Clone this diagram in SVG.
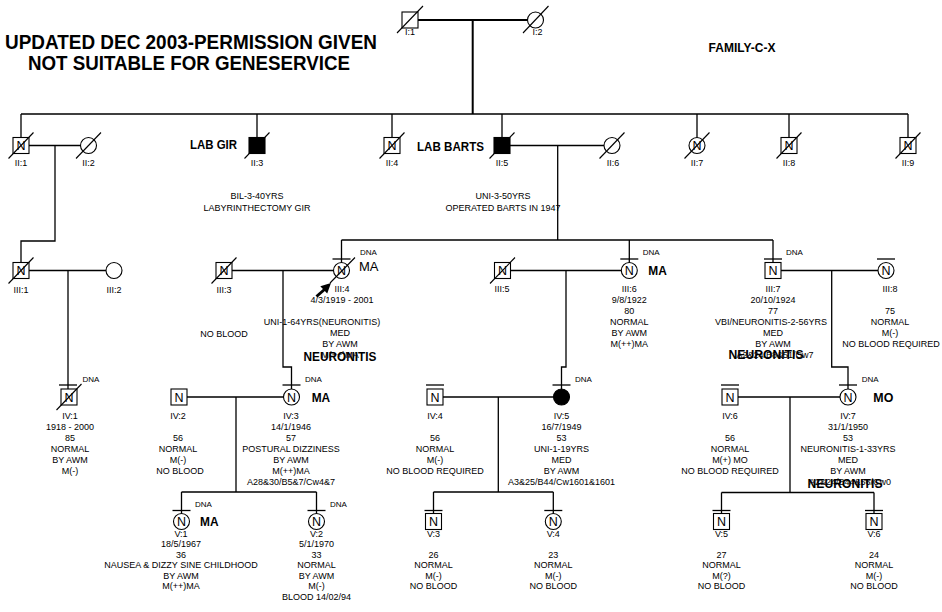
<svg xmlns="http://www.w3.org/2000/svg" width="942" height="612" viewBox="0 0 942 612">
<style>
text{font-family:"Liberation Sans",Arial,sans-serif;fill:#000}
.t{font-size:9px;text-anchor:middle}
.n{font-size:12.5px;text-anchor:middle}
.d{font-size:8px}
.b{font-weight:bold}
.ln{stroke:#000;stroke-width:1.3;fill:none}
.lt{stroke:#000;stroke-width:2;fill:none}
.s{fill:#fff;stroke:#000;stroke-width:1.1}
.f{fill:#000;stroke:#000;stroke-width:1.1}
.sl{stroke:#000;stroke-width:1.1}
.bar{stroke:#000;stroke-width:1.3}
</style>
<rect width="942" height="612" fill="#fff"/>

<g id="title">
<text class="b" x="191" y="49" font-size="21" text-anchor="middle" textLength="372" lengthAdjust="spacingAndGlyphs">UPDATED DEC 2003-PERMISSION GIVEN</text>
<text class="b" x="189" y="70" font-size="21" text-anchor="middle" textLength="322" lengthAdjust="spacingAndGlyphs">NOT SUITABLE FOR GENESERVICE</text>
<text class="b" x="742" y="52" font-size="12" text-anchor="middle">FAMILY-C-X</text>
</g>

<g id="connectors">
<path class="lt" d="M418,20 H527.5 M472.7,20 V114"/>
<path class="ln" d="M21,114 H908 M21,114 V137.5 M257,114 V137.5 M392,114 V137.5 M502,114 V137.5 M697,114 V137.5 M789,114 V137.5 M908,114 V137.5"/>
<path class="ln" d="M29,145.5 H80.5 M55,145.5 V241 H21 V262.5"/>
<path class="ln" d="M510,145.5 H604 M557.7,145.5 V240 M341.5,240 H773 M341.5,240 V262.5 M629.3,240 V262.5 M773,240 V262.5"/>
<path class="ln" d="M29,270.5 H106 M68,270.5 V389"/>
<path class="ln" d="M232,270.5 H333.5 M283,270.5 V367 H291.5 V389"/>
<path class="ln" d="M510.5,270.5 H621.3 M566,270.5 V367 H561.5 V389"/>
<path class="ln" d="M781,270.5 H878 M831.7,270.5 V367 H848 V389"/>
<path class="ln" d="M187,397 H283.5 M236,397 V492 M181.5,492 H316.5 M181.5,492 V513.5 M316.5,492 V513.5"/>
<path class="ln" d="M443,397 H553.5 M498.3,397 V492 M433.5,492 H553.3 M433.5,492 V513.5 M553.3,492 V513.5"/>
<path class="ln" d="M738,397 H840 M790,397 V492.5 M721.5,492.5 H874 M721.5,492.5 V513.5 M874,492.5 V513.5"/>
</g>

<g id="I1"><rect class="s" x="402" y="12" width="16" height="16"/><line class="sl" x1="397" y1="33" x2="423" y2="6"/><text class="t" x="410" y="35">I:1</text></g>
<g id="I2"><circle class="s" cx="535.5" cy="20" r="8"/><line class="sl" x1="523" y1="33" x2="548.5" y2="6"/><text class="t" x="537.5" y="35">I:2</text></g>

<g id="II1"><rect class="s" x="13" y="137.5" width="16" height="16"/><text class="n" x="21" y="150">N</text><line class="sl" x1="8.5" y1="158.5" x2="33.5" y2="132.5"/><text class="t" x="21" y="166">II:1</text></g>
<g id="II2"><circle class="s" cx="88.5" cy="145.5" r="8"/><line class="sl" x1="76" y1="158.5" x2="101" y2="132.5"/><text class="t" x="88.5" y="166">II:2</text></g>
<g id="II3"><text class="b" x="190" y="148.5" font-size="13.5" textLength="47" lengthAdjust="spacingAndGlyphs">LAB GIR</text><rect class="f" x="249" y="137.5" width="16" height="16"/><line class="sl" x1="244.5" y1="158.5" x2="269.5" y2="132.5"/><text class="t" x="257" y="166">II:3</text><text class="t" x="257" y="198.5">BIL-3-40YRS</text><text class="t" x="257" y="210.5">LABYRINTHECTOMY GIR</text></g>
<g id="II4"><rect class="s" x="384" y="137.5" width="16" height="16"/><text class="n" x="392" y="150">N</text><line class="sl" x1="379.5" y1="158.5" x2="404.5" y2="132.5"/><text class="t" x="392" y="166">II:4</text></g>
<g id="II5"><text class="b" x="417" y="150.5" font-size="13.5" textLength="67" lengthAdjust="spacingAndGlyphs">LAB BARTS</text><rect class="f" x="494" y="137.5" width="16" height="16"/><line class="sl" x1="489.5" y1="158.5" x2="514.5" y2="132.5"/><text class="t" x="502" y="166">II:5</text><text class="t" x="503" y="199">UNI-3-50YRS</text><text class="t" x="503" y="211">OPERATED BARTS IN 1947</text></g>
<g id="II6"><circle class="s" cx="612" cy="145.5" r="8"/><line class="sl" x1="599.5" y1="158.5" x2="624.5" y2="132.5"/><text class="t" x="613" y="166">II:6</text></g>
<g id="II7"><circle class="s" cx="697" cy="145.5" r="8"/><text class="n" x="697" y="150">N</text><line class="sl" x1="684.5" y1="158.5" x2="709.5" y2="132.5"/><text class="t" x="697" y="166">II:7</text></g>
<g id="II8"><rect class="s" x="781" y="137.5" width="16" height="16"/><text class="n" x="789" y="150">N</text><line class="sl" x1="776.5" y1="158.5" x2="801.5" y2="132.5"/><text class="t" x="789" y="166">II:8</text></g>
<g id="II9"><rect class="s" x="900" y="137.5" width="16" height="16"/><text class="n" x="908" y="150">N</text><line class="sl" x1="895.5" y1="158.5" x2="920.5" y2="132.5"/><text class="t" x="908" y="166">II:9</text></g>

<g id="III1"><rect class="s" x="13" y="262.5" width="16" height="16"/><text class="n" x="21" y="275">N</text><line class="sl" x1="8.5" y1="283.5" x2="33.5" y2="257.5"/><text class="t" x="21" y="292.5">III:1</text></g>
<g id="III2"><circle class="s" cx="114" cy="270.5" r="8"/><text class="t" x="114" y="292.5">III:2</text></g>
<g id="III3"><rect class="s" x="216" y="262.5" width="16" height="16"/><text class="n" x="224" y="275">N</text><line class="sl" x1="211.5" y1="283.5" x2="236.5" y2="257.5"/><text class="t" x="224" y="292.5">III:3</text><text class="t" x="224" y="336.5">NO BLOOD</text></g>
<g id="III4"><line class="bar" x1="332.5" y1="259" x2="350.5" y2="259"/><circle class="s" cx="341.5" cy="270.5" r="8"/><text class="n" x="341.5" y="275">N</text><line class="sl" x1="330" y1="283" x2="355" y2="257.5"/><text class="d" x="360" y="254.5">DNA</text><text x="359" y="271" font-size="13">MA</text>
<line stroke="#000" stroke-width="3" x1="316.5" y1="296.5" x2="325" y2="289"/><polygon points="331,283 327.2,293.5 320.3,286.2" fill="#000"/>
<text class="t" x="342" y="291.5">III:4</text><text class="t" x="342" y="303">4/3/1919 - 2001</text><text class="t" x="322" y="325">UNI-1-64YRS(NEURONITIS)</text><text class="t" x="340" y="336">MED</text><text class="t" x="340" y="347">BY AWM</text><text class="t" x="340" y="358">M(++)MA</text><text class="b" x="340" y="361" font-size="13.5" text-anchor="middle" textLength="73" lengthAdjust="spacingAndGlyphs">NEURONITIS</text></g>
<g id="III5"><rect class="s" x="494.5" y="262.5" width="16" height="16"/><text class="n" x="502.5" y="275">N</text><line class="sl" x1="490" y1="283.5" x2="515" y2="257.5"/><text class="t" x="502" y="291.5">III:5</text></g>
<g id="III6"><line class="bar" x1="620.3" y1="259" x2="638.3" y2="259"/><circle class="s" cx="629.3" cy="270.5" r="8"/><text class="n" x="629.3" y="275">N</text><text class="d" x="642.7" y="254.5">DNA</text><text class="b" x="648.3" y="275" font-size="13" textLength="18.5" lengthAdjust="spacingAndGlyphs">MA</text>
<text class="t" x="629.3" y="291.5">III:6</text><text class="t" x="629.3" y="303">9/8/1922</text><text class="t" x="629.3" y="314">80</text><text class="t" x="629.3" y="325">NORMAL</text><text class="t" x="629.3" y="336">BY AWM</text><text class="t" x="629.3" y="347">M(++)MA</text></g>
<g id="III7"><line class="bar" x1="764" y1="259" x2="782" y2="259"/><rect class="s" x="765" y="262.5" width="16" height="16"/><text class="n" x="773" y="275">N</text><text class="d" x="786" y="254.5">DNA</text>
<text class="t" x="773" y="291.5">III:7</text><text class="t" x="773" y="303">20/10/1924</text><text class="t" x="773" y="314">77</text><text class="t" x="771" y="325">VBI/NEURONITIS-2-56YRS</text><text class="t" x="773" y="336">MED</text><text class="t" x="773" y="347">BY AWM</text><text class="t" x="775" y="358">A2&amp;24/B8&amp;51/Cw7</text><text class="b" x="766" y="359" font-size="13.5" text-anchor="middle" textLength="75" lengthAdjust="spacingAndGlyphs">NEURONITIS</text></g>
<g id="III8"><line class="bar" x1="877" y1="259" x2="895" y2="259"/><circle class="s" cx="886" cy="270.5" r="8"/><text class="n" x="886" y="275">N</text>
<text class="t" x="890" y="291.5">III:8</text><text class="t" x="890" y="314">75</text><text class="t" x="890" y="325">NORMAL</text><text class="t" x="890" y="336">M(-)</text><text class="t" x="891" y="347">NO BLOOD REQUIRED</text></g>

<g id="IV1"><line class="bar" x1="59" y1="385" x2="77" y2="385"/><rect class="s" x="61" y="389" width="16" height="16"/><text class="n" x="69" y="401.5">N</text><line class="sl" x1="56.5" y1="410" x2="81.5" y2="384"/><text class="d" x="82.5" y="381.5">DNA</text>
<text class="t" x="70" y="419">IV:1</text><text class="t" x="70" y="430">1918 - 2000</text><text class="t" x="70" y="441">85</text><text class="t" x="70" y="452">NORMAL</text><text class="t" x="70" y="463">BY AWM</text><text class="t" x="70" y="474">M(-)</text></g>
<g id="IV2"><rect class="s" x="171" y="389" width="16" height="16"/><text class="n" x="179" y="401.5">N</text>
<text class="t" x="178" y="419">IV:2</text><text class="t" x="178" y="441">56</text><text class="t" x="178" y="452">NORMAL</text><text class="t" x="178" y="463">M(-)</text><text class="t" x="180" y="474">NO BLOOD</text></g>
<g id="IV3"><line class="bar" x1="282.5" y1="385" x2="300.5" y2="385"/><circle class="s" cx="291.5" cy="397" r="8"/><text class="n" x="291.5" y="401.5">N</text><text class="d" x="305" y="381.5">DNA</text><text class="b" x="311.7" y="401.5" font-size="13" textLength="18.5" lengthAdjust="spacingAndGlyphs">MA</text>
<text class="t" x="291" y="419">IV:3</text><text class="t" x="291" y="430">14/1/1946</text><text class="t" x="291" y="441">57</text><text class="t" x="291" y="452">POSTURAL DIZZINESS</text><text class="t" x="291" y="463">BY AWM</text><text class="t" x="291" y="474">M(++)MA</text><text class="t" x="291" y="485">A28&amp;30/B5&amp;7/Cw4&amp;7</text></g>
<g id="IV4"><line class="bar" x1="426" y1="385" x2="444" y2="385"/><rect class="s" x="427" y="389" width="16" height="16"/><text class="n" x="435" y="401.5">N</text>
<text class="t" x="435" y="419">IV:4</text><text class="t" x="435" y="441">56</text><text class="t" x="435" y="452">NORMAL</text><text class="t" x="435" y="463">M(-)</text><text class="t" x="435" y="474">NO BLOOD REQUIRED</text></g>
<g id="IV5"><line class="bar" x1="552.5" y1="385" x2="570.5" y2="385"/><circle class="f" cx="561.5" cy="397" r="8"/><text class="d" x="575" y="381.5">DNA</text>
<text class="t" x="561.5" y="419">IV:5</text><text class="t" x="561.5" y="430">16/7/1949</text><text class="t" x="561.5" y="441">53</text><text class="t" x="561.5" y="452">UNI-1-19YRS</text><text class="t" x="561.5" y="463">MED</text><text class="t" x="561.5" y="474">BY AWM</text><text class="t" x="561.5" y="485">A3&amp;25/B44/Cw1601&amp;1601</text></g>
<g id="IV6"><line class="bar" x1="721" y1="385" x2="739" y2="385"/><rect class="s" x="722" y="389" width="16" height="16"/><text class="n" x="730" y="401.5">N</text>
<text class="t" x="730" y="419">IV:6</text><text class="t" x="730" y="441">56</text><text class="t" x="730" y="452">NORMAL</text><text class="t" x="730" y="463">M(+) MO</text><text class="t" x="730" y="474">NO BLOOD REQUIRED</text></g>
<g id="IV7"><line class="bar" x1="839" y1="385" x2="857" y2="385"/><circle class="s" cx="848" cy="397" r="8"/><text class="n" x="848" y="401.5">N</text><text class="d" x="861.7" y="381.5">DNA</text><text class="b" x="873.3" y="401.5" font-size="13" textLength="20" lengthAdjust="spacingAndGlyphs">MO</text>
<text class="t" x="848" y="419">IV:7</text><text class="t" x="848" y="430">31/1/1950</text><text class="t" x="848" y="441">53</text><text class="t" x="848" y="452">NEURONITIS-1-33YRS</text><text class="t" x="848" y="463">MED</text><text class="t" x="848" y="474">BY AWM</text><text class="t" x="850" y="485">A2&amp;24/B44&amp;56/Cw0</text><text class="b" x="845" y="488" font-size="13.5" text-anchor="middle" textLength="75" lengthAdjust="spacingAndGlyphs">NEURONITIS</text></g>

<g id="V1"><line class="bar" x1="172.5" y1="510.5" x2="190.5" y2="510.5"/><circle class="s" cx="181.5" cy="521.5" r="8"/><text class="n" x="181.5" y="526">N</text><text class="d" x="195" y="506.5">DNA</text><text class="b" x="200" y="525.5" font-size="13" textLength="18.5" lengthAdjust="spacingAndGlyphs">MA</text>
<text class="t" x="181" y="536.5">V:1</text><text class="t" x="181" y="547">18/5/1967</text><text class="t" x="181" y="557.5">36</text><text class="t" x="181" y="568">NAUSEA &amp; DIZZY SINE CHILDHOOD</text><text class="t" x="181" y="578.5">BY AWM</text><text class="t" x="181" y="589">M(++)MA</text></g>
<g id="V2"><line class="bar" x1="307.5" y1="510.5" x2="325.5" y2="510.5"/><circle class="s" cx="316.5" cy="521.5" r="8"/><text class="n" x="316.5" y="526">N</text><text class="d" x="330" y="506.5">DNA</text>
<text class="t" x="316.5" y="536.5">V:2</text><text class="t" x="316.5" y="547">5/1/1970</text><text class="t" x="316.5" y="557.5">33</text><text class="t" x="316.5" y="568">NORMAL</text><text class="t" x="316.5" y="578.5">BY AWM</text><text class="t" x="316.5" y="589">M(-)</text><text class="t" x="316.5" y="599.5">BLOOD 14/02/94</text></g>
<g id="V3"><line class="bar" x1="424.5" y1="510.5" x2="442.5" y2="510.5"/><rect class="s" x="425.5" y="513.5" width="16" height="16"/><text class="n" x="433.5" y="526">N</text>
<text class="t" x="433.5" y="536.5">V:3</text><text class="t" x="433.5" y="557.5">26</text><text class="t" x="433.5" y="568">NORMAL</text><text class="t" x="433.5" y="578.5">M(-)</text><text class="t" x="433.5" y="589">NO BLOOD</text></g>
<g id="V4"><line class="bar" x1="544.3" y1="510.5" x2="562.3" y2="510.5"/><circle class="s" cx="553.3" cy="521.5" r="8"/><text class="n" x="553.3" y="526">N</text>
<text class="t" x="553.3" y="536.5">V:4</text><text class="t" x="553.3" y="557.5">23</text><text class="t" x="553.3" y="568">NORMAL</text><text class="t" x="553.3" y="578.5">M(-)</text><text class="t" x="553.3" y="589">NO BLOOD</text></g>
<g id="V5"><line class="bar" x1="712.5" y1="510.5" x2="730.5" y2="510.5"/><rect class="s" x="713.5" y="513.5" width="16" height="16"/><text class="n" x="721.5" y="526">N</text>
<text class="t" x="721.5" y="536.5">V:5</text><text class="t" x="721.5" y="557.5">27</text><text class="t" x="721.5" y="568">NORMAL</text><text class="t" x="721.5" y="578.5">M(?)</text><text class="t" x="721.5" y="589">NO BLOOD</text></g>
<g id="V6"><line class="bar" x1="865" y1="510.5" x2="883" y2="510.5"/><rect class="s" x="866" y="513.5" width="16" height="16"/><text class="n" x="874" y="526">N</text>
<text class="t" x="874" y="536.5">V:6</text><text class="t" x="874" y="557.5">24</text><text class="t" x="874" y="568">NORMAL</text><text class="t" x="874" y="578.5">M(-)</text><text class="t" x="874" y="589">NO BLOOD</text></g>
</svg>
